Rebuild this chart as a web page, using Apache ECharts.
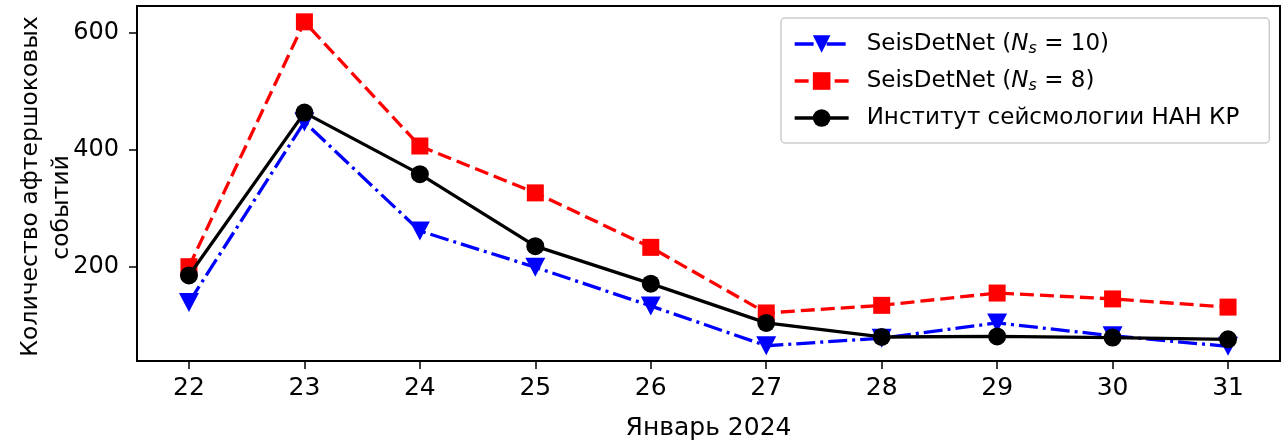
<!DOCTYPE html>
<html>
<head>
<meta charset="utf-8">
<script src="https://cdn.jsdelivr.net/npm/echarts@6/dist/echarts.min.js"></script>
<style>
html,body{margin:0;padding:0;background:#fff;}
#chart{width:1282px;height:443px;}
</style>
</head>
<body>
<div id="chart"></div>
<script>
const days = [22, 23, 24, 25, 26, 27, 28, 29, 30, 31];
const seisNs10 = [139, 447, 261, 199, 133, 65, 78, 104, 82, 64];
const seisNs8 = [200, 618, 406, 326, 233, 121, 134, 155, 145, 131];
const institute = [185, 463, 358, 235, 171, 104, 80, 81, 79, 76];
const yTicks = [200, 400, 600];
const seriesNames = ['SeisDetNet (Ns = 10)', 'SeisDetNet (Ns = 8)', 'Институт сейсмологии НАН КР'];
const legendLabels = {
  'SeisDetNet (Ns = 10)': 'SeisDetNet ({it|N}{sub|s} = 10)',
  'SeisDetNet (Ns = 8)': 'SeisDetNet ({it|N}{sub|s} = 8)',
  'Институт сейсмологии НАН КР': 'Институт сейсмологии НАН КР'
};
const yAxisLine1 = 'Количество афтершоковых';
const yAxisLine2 = 'событий';
const pairs = arr => days.map((d, i) => [d, arr[i]]);
const FONT = 'DejaVu Sans';

const chart = echarts.init(document.getElementById('chart'), null, {renderer: 'canvas'});
chart.setOption({
  backgroundColor: '#fff',
  animation: false,
  grid: {
    left: 137, right: 2, top: 6, bottom: 82,
    outerBoundsMode: 'none', containLabel: false,
    show: true, borderColor: '#000', borderWidth: 2, backgroundColor: 'transparent'
  },
  xAxis: {
    type: 'value', min: 21.55, max: 31.45,
    axisLine: {show: false},
    splitLine: {show: false},
    axisTick: {show: true, length: 8, lineStyle: {color: '#000', width: 1.5}, customValues: days},
    axisLabel: {customValues: days, color: '#000', fontFamily: FONT, fontSize: 25, margin: 15},
    name: 'Январь 2024', nameLocation: 'middle', nameGap: 55, nameMoveOverlap: false,
    nameTextStyle: {color: '#000', fontFamily: FONT, fontSize: 25}
  },
  yAxis: {
    type: 'value', min: 39, max: 645,
    axisLine: {show: false},
    splitLine: {show: false},
    axisTick: {show: true, length: 8, lineStyle: {color: '#000', width: 1.5}, customValues: yTicks},
    axisLabel: {customValues: yTicks, color: '#000', fontFamily: FONT, fontSize: 24, margin: 18},
    name: '{a|' + yAxisLine1 + '}\n{b|' + yAxisLine2 + '}',
    nameLocation: 'middle', nameRotate: 90, nameGap: 60, nameMoveOverlap: false,
    nameTextStyle: {
      color: '#000', fontFamily: FONT, fontSize: 23.5, lineHeight: 31,
      rich: {
        a: {fontFamily: FONT, fontSize: 23.5, lineHeight: 31, color: '#000', padding: [0, 6, 0, 0]},
        b: {fontFamily: FONT, fontSize: 23.5, lineHeight: 31, color: '#000', padding: [0, 48, 0, 0]}
      }
    }
  },
  legend: {
    orient: 'vertical', left: 781, top: 18,
    padding: [13, 30, 12, 12],
    itemWidth: 54, itemHeight: 22, itemGap: 11,
    backgroundColor: '#fff', borderColor: '#cccccc', borderWidth: 1.5, borderRadius: 4,
    data: seriesNames,
    formatter: name => legendLabels[name],
    lineStyle: {width: 3.3},
    textStyle: {
      color: '#000', fontFamily: FONT, fontSize: 23, lineHeight: 26, padding: [0, 0, 0, 13],
      rich: {
        it: {fontFamily: FONT, fontStyle: 'italic', fontSize: 23, color: '#000'},
        sub: {fontFamily: FONT, fontStyle: 'italic', fontSize: 16, color: '#000', verticalAlign: 'bottom', lineHeight: 14}
      }
    }
  },
  series: [
    {
      name: seriesNames[0], type: 'line', data: pairs(seisNs10),
      symbol: 'triangle', symbolRotate: 180, symbolSize: [20, 19],
      itemStyle: {color: '#0000ff'},
      lineStyle: {color: '#0000ff', width: 3.3, type: [19, 5, 3, 5]}, z: 2
    },
    {
      name: seriesNames[1], type: 'line', data: pairs(seisNs8),
      symbol: 'rect', symbolSize: 17,
      itemStyle: {color: '#ff0000'},
      lineStyle: {color: '#ff0000', width: 3.3, type: [14, 6]}, z: 3
    },
    {
      name: seriesNames[2], type: 'line', data: pairs(institute),
      symbol: 'circle', symbolSize: 18,
      itemStyle: {color: '#000'},
      lineStyle: {color: '#000', width: 3.3, type: 'solid'}, z: 4
    }
  ]
});
</script>
</body>
</html>
